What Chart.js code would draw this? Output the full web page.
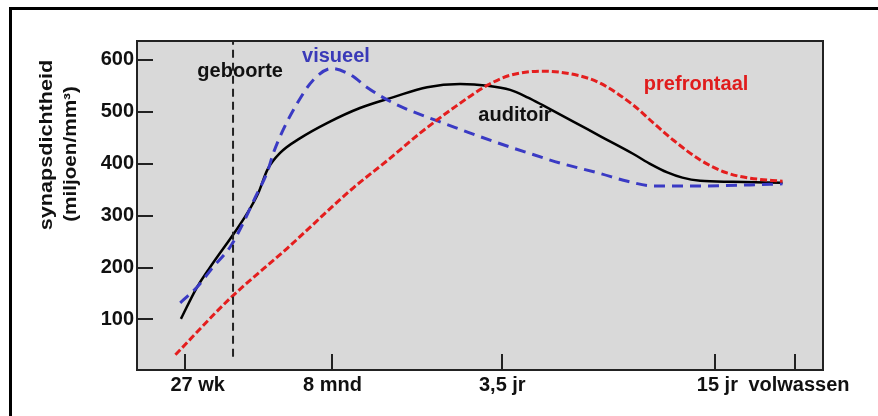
<!DOCTYPE html>
<html>
<head>
<meta charset="utf-8">
<script src="https://cdn.jsdelivr.net/npm/chart.js@4"></script>
<style>
    html, body { margin: 0; padding: 0; background: #fff; overflow: hidden; }
    #frame { position: absolute; left: 9px; top: 7px; width: 2000px; height: 2000px; border: 3px solid #000; }
    #chartSynaps { position: absolute; left: 0; top: 0; }
</style>
</head>
<body>
<div id="frame"></div>
<canvas id="chartSynaps" width="878" height="416"></canvas>
<script>
// x runs from 0 (left edge of the plot) to 100 (right edge), an age axis without units
const xTickPos = [7.0, 28.4, 53.2, 84.3, 95.9];
const xLabelPos = [8.85, 28.5, 53.25, 84.6, 96.5];
const xLabels = ['27 wk', '8 mnd', '3,5 jr', '15 jr', 'volwassen'];
const yTicks = [100, 200, 300, 400, 500, 600];

const birthX = 14.0;
const birthY = [28, 636];

const auditoirX = [6.4, 8.7, 11.1, 14.0, 16.1, 17.7, 19.0, 20.9, 23.8, 27.7, 32.5, 37.4, 42.3, 47.1, 51.1, 54.4, 57.0, 59.2, 63.6, 67.5, 72.3, 75.0, 77.3, 79.5, 82.1, 86.9, 94.1];
const auditoirY = [101, 161, 209, 263, 305, 344, 388, 421, 449, 478, 507, 528, 547, 553, 550, 542, 527, 512, 481, 453, 419, 398, 383, 373, 367, 365, 363];

const visueelX = [6.3, 8.8, 11.1, 13.6, 15.5, 17.2, 19.0, 19.9, 21.3, 23.4, 25.7, 28.4, 31.1, 33.6, 35.9, 38.4, 43.2, 47.1, 51.9, 56.9, 61.7, 67.5, 71.5, 75.3, 82.1, 89.4, 94.1];
const visueelY = [132, 163, 201, 240, 286, 334, 384, 421, 465, 517, 561, 583, 571, 546, 527, 510, 485, 466, 443, 421, 401, 381, 366, 357, 357, 359, 361];

const prefrontaalX = [5.6, 13.6, 21.9, 31.5, 36.5, 41.3, 45.7, 51.1, 54.4, 59.2, 64.2, 67.5, 72.3, 75.3, 78.2, 82.1, 86.0, 89.4, 94.1];
const prefrontaalY = [32, 141, 237, 353, 406, 459, 503, 551, 570, 578, 570, 555, 513, 478, 445, 407, 382, 372, 366];

const FONT = '"Liberation Sans", Arial, sans-serif';

function toPoints(xs, ys) {
    const pts = [];
    for (let i = 0; i < xs.length; i++) {
        pts.push({ x: xs[i], y: ys[i] });
    }
    return pts;
}

// gray plot box, inward tick marks, curve names and the rotated y title
const decoPlugin = {
    id: 'deco',
    beforeDatasetsDraw(chart) {
        const ctx = chart.ctx;
        const a = chart.chartArea;
        ctx.save();
        ctx.fillStyle = '#d9d9d9';
        ctx.fillRect(a.left, a.top, a.right - a.left, a.bottom - a.top);
        ctx.restore();
    },
    afterDatasetsDraw(chart) {
        const ctx = chart.ctx;
        const a = chart.chartArea;
        const xs = chart.scales.x;
        const ys = chart.scales.y;
        ctx.save();
        ctx.strokeStyle = '#222';
        ctx.lineWidth = 2;
        ctx.strokeRect(a.left, a.top, a.right - a.left, a.bottom - a.top);
        ctx.beginPath();
        for (let v of yTicks) {
            const py = Math.round(ys.getPixelForValue(v));
            ctx.moveTo(a.left, py);
            ctx.lineTo(a.left + 16, py);
        }
        for (let v of xTickPos) {
            const px = Math.round(xs.getPixelForValue(v));
            ctx.moveTo(px, a.bottom);
            ctx.lineTo(px, a.bottom - 16);
        }
        ctx.stroke();

        ctx.font = 'bold 20px ' + FONT;
        ctx.textBaseline = 'middle';
        ctx.textAlign = 'left';
        ctx.fillStyle = '#111';
        ctx.fillText('geboorte', xs.getPixelForValue(8.8), ys.getPixelForValue(578));
        ctx.textAlign = 'center';
        ctx.fillStyle = '#3a3ab8';
        ctx.fillText('visueel', xs.getPixelForValue(29.0), ys.getPixelForValue(607));
        ctx.fillStyle = '#111';
        ctx.fillText('auditoir', xs.getPixelForValue(55.1), ys.getPixelForValue(492));
        ctx.fillStyle = '#e01c1c';
        ctx.fillText('prefrontaal', xs.getPixelForValue(81.5), ys.getPixelForValue(552));

        ctx.fillStyle = '#111';
        ctx.font = 'bold 18px ' + FONT;
        ctx.save();
        ctx.translate(47, 145);
        ctx.rotate(-Math.PI / 2);
        ctx.scale(1.2, 1);
        ctx.fillText('synapsdichtheid', 0, 0);
        ctx.restore();
        ctx.save();
        ctx.translate(71, 154);
        ctx.rotate(-Math.PI / 2);
        ctx.scale(1.15, 1);
        ctx.fillText('(miljoen/mm\u00b3)', 0, 0);
        ctx.restore();
        ctx.restore();
    }
};

const config = {
    type: 'line',
    data: {
        datasets: [
            {
                label: 'geboorte',
                data: [{ x: birthX, y: birthY[0] }, { x: birthX, y: birthY[1] }],
                borderColor: '#222',
                borderWidth: 2,
                borderDash: [8, 5],
                pointRadius: 0,
            },
            {
                label: 'prefrontaal',
                data: toPoints(prefrontaalX, prefrontaalY),
                borderColor: '#e41e1e',
                borderWidth: 3,
                borderDash: [7, 3],
                pointRadius: 0,
                cubicInterpolationMode: 'monotone',
            },
            {
                label: 'visueel',
                data: toPoints(visueelX, visueelY),
                borderColor: '#3a3ac4',
                borderWidth: 3,
                borderDash: [11, 7],
                pointRadius: 0,
                cubicInterpolationMode: 'monotone',
            },
            {
                label: 'auditoir',
                data: toPoints(auditoirX, auditoirY),
                borderColor: '#000',
                borderWidth: 2.5,
                pointRadius: 0,
                cubicInterpolationMode: 'monotone',
            },
        ]
    },
    options: {
        responsive: false,
        animation: false,
        layout: {
            padding: { left: 0, right: 55, top: 41, bottom: 0 }
        },
        plugins: {
            legend: { display: false },
            tooltip: { enabled: false },
        },
        scales: {
            x: {
                type: 'linear',
                min: 0,
                max: 100,
                afterBuildTicks: function (scale) {
                    scale.ticks = xLabelPos.map(v => ({ value: v }));
                },
                afterFit: function (scale) {
                    scale.height = 46;
                },
                grid: { display: false, drawTicks: false },
                border: { display: false },
                ticks: {
                    autoSkip: false,
                    maxRotation: 0,
                    padding: 3,
                    color: '#111',
                    font: { family: FONT, size: 20, weight: 'bold' },
                    callback: function (value, index) {
                        return xLabels[index];
                    }
                }
            },
            y: {
                type: 'linear',
                min: 2.7,
                max: 636,
                afterBuildTicks: function (scale) {
                    scale.ticks = yTicks.map(v => ({ value: v }));
                },
                afterFit: function (scale) {
                    scale.width = 137;
                },
                grid: { display: false, drawTicks: false },
                border: { display: false },
                ticks: {
                    padding: 3,
                    color: '#111',
                    font: { family: FONT, size: 20, weight: 'bold' },
                    callback: function (value) {
                        return String(value);
                    }
                }
            }
        }
    },
    plugins: [decoPlugin]
};

const myChart = new Chart(document.getElementById('chartSynaps'), config);
</script>
</body>
</html>
